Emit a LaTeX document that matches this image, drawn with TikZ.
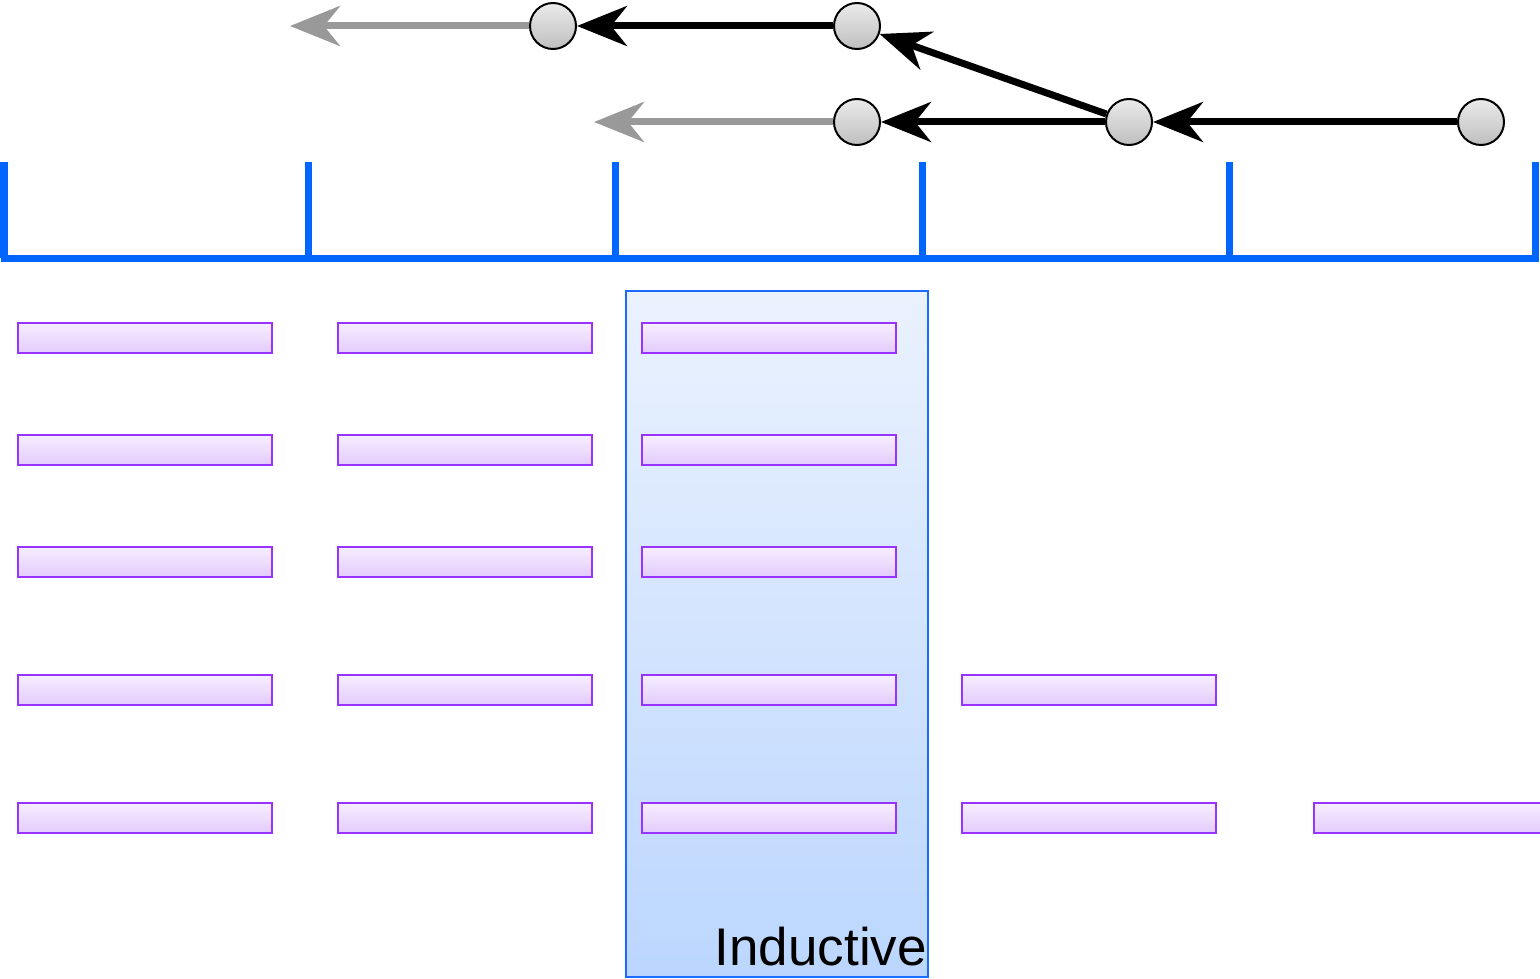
\documentclass[tikz,border=0pt]{standalone}
\usepackage{fontspec}
\setmainfont{Liberation Sans}
\usetikzlibrary{arrows.meta}
\definecolor{tline}{HTML}{0066FF}
\definecolor{barline}{HTML}{9933FF}
\definecolor{bartop}{HTML}{F6EEFE}
\definecolor{barbot}{HTML}{E3CBFD}
\definecolor{boxtop}{HTML}{EBF2FE}
\definecolor{boxbot}{HTML}{BBD6FE}
\definecolor{boxline}{HTML}{1A6BFF}
\definecolor{dottop}{HTML}{EBEBEB}
\definecolor{dotbot}{HTML}{BEBEBE}
\definecolor{ghost}{HTML}{999999}
\tikzset{
  bar/.style={draw=barline, line width=2pt, top color=bartop, bottom color=barbot,
    minimum width=254pt, minimum height=30pt, inner sep=0pt},
  region/.style={draw=boxline, line width=2pt, top color=boxtop, bottom color=boxbot,
    minimum width=302pt, minimum height=686pt, inner sep=0pt},
  dot/.style={circle, draw=black, line width=2pt, top color=dottop, bottom color=dotbot,
    minimum size=46pt, inner sep=0pt},
  link/.style={line width=7pt, -{Stealth[length=50pt,width=40pt,inset=16pt]}},
  faded/.style={link, draw=ghost},
  axis/.style={draw=tline, line width=7pt}
}
\begin{document}
\begin{tikzpicture}[x=1pt,y=-1pt]
\useasboundingbox (0,0) rectangle (1540,979);
\clip (0,0) rectangle (1540,979);

% highlighted column
\node[region] (ind) at (777,634) {};
\node[anchor=base east, inner sep=0pt, font=\fontsize{53}{60}\selectfont] (lbl) at (927,965) {Inductive};

% timeline
\draw[axis] (1,258) -- (1539,258);
\foreach \x in {4,308,615,922,1229,1535}
  \draw[axis] (\x,162) -- (\x,258);

% bars
\foreach \x in {145,465,769}
  \foreach \y in {338,450,562,690,818}
    \node[bar] at (\x,\y) {};
\foreach \y in {690,818}
  \node[bar] at (1089,\y) {};
\node[bar] at (1441,818) {};

% commit graph
\node[dot] (a) at (553,26) {};
\node[dot] (b) at (857,26) {};
\node[dot] (c) at (857,122) {};
\node[dot] (d) at (1129,122) {};
\node[dot] (e) at (1481,122) {};
\coordinate (ga) at (290,26);
\coordinate (gc) at (594,122);

\draw[faded] (a) -- (ga);
\draw[faded] (c) -- (gc);
\draw[link] (b) -- (a);
\draw[link] (d) -- (b);
\draw[link] (d) -- (c);
\draw[link] (e) -- (d);
\end{tikzpicture}
\end{document}
